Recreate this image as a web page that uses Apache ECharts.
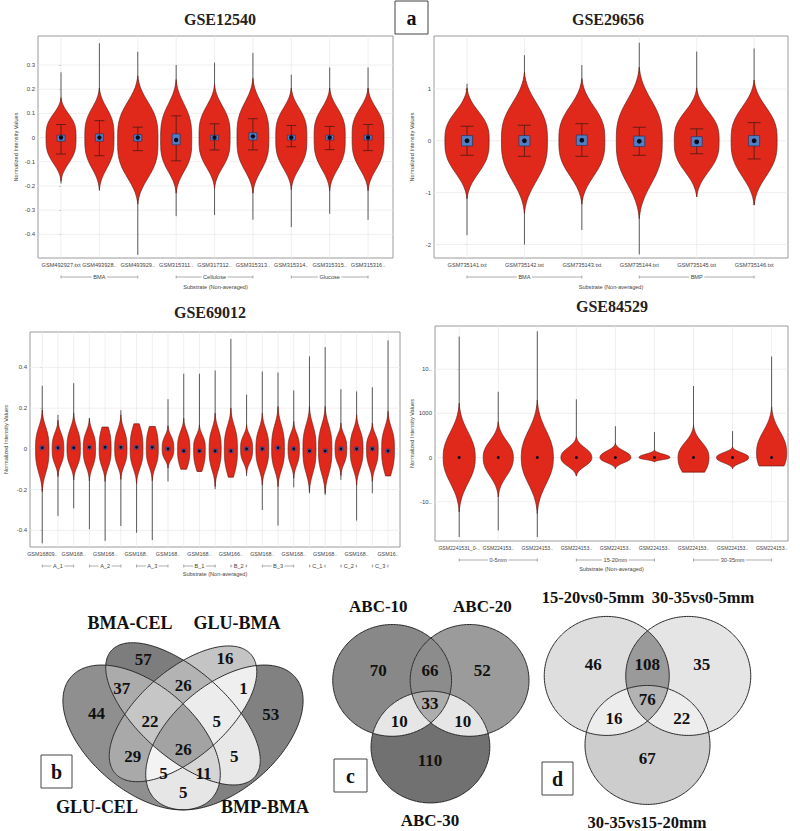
<!DOCTYPE html>
<html><head><meta charset="utf-8">
<script src="https://cdn.jsdelivr.net/npm/echarts@6/dist/echarts.min.js"></script>
<style>html,body{margin:0;padding:0;background:#fff}#c{width:800px;height:831px}</style>
</head><body><div id="c"></div>
<script>
// ================= DATA =================
const titleText = ['GSE12540', 'GSE29656', 'GSE69012', 'GSE84529'];
const yAxisTitle = 'Normalized Intensity Values';
const xAxisTitle = 'Substrate (Non-averaged)';

// ---- Panel 1: GSE12540 ----
const p1Names = ['GSM492927.txt','GSM493928..','GSM493929..','GSM315311..','GSM317312..','GSM315313..','GSM315314..','GSM315315..','GSM315316..'];
const p1Groups = [['BMA',0,2],['Cellulose',3,5],['Glucose',6,8]];
const p1YTicks = [0.3,0.2,0.1,0,-0.1,-0.2,-0.3,-0.4];
const p1YLabels = ['0.3','0.2','0.1','0','-0.1','-0.2','-0.3','-0.4'];
const p1WMax = [0.27,0.39,0.355,0.30,0.31,0.35,0.26,0.29,0.29];
const p1WMin = [-0.19,-0.22,-0.485,-0.325,-0.32,-0.34,-0.37,-0.315,-0.34];
const p1Hi = [0.165,0.205,0.255,0.24,0.22,0.245,0.205,0.205,0.205];
const p1Lo = [-0.18,-0.215,-0.275,-0.23,-0.21,-0.23,-0.215,-0.22,-0.22];
const p1Mid = [0,0,-0.01,-0.01,0,0,0,0,0];
const p1Width = [0.78,0.76,1.05,0.81,0.81,0.83,0.81,0.81,0.83];
const p1Med = [0,0,0,-0.01,0,0.005,0,0,0];
const p1Q1 = [-0.015,-0.015,-0.015,-0.03,-0.01,-0.01,-0.01,-0.01,-0.01];
const p1Q3 = [0.01,0.015,0.012,0.015,0.01,0.02,0.01,0.01,0.01];
const p1ELo = [-0.068,-0.075,-0.054,-0.096,-0.051,-0.051,-0.038,-0.05,-0.054];
const p1EHi = [0.054,0.07,0.043,0.09,0.057,0.078,0.05,0.046,0.054];

// ---- Panel 2: GSE29656 ----
const p2Names = ['GSM735141.txt','GSM735142.txt','GSM735143.txt','GSM735144.txt','GSM735145.txt','GSM735146.txt'];
const p2Groups = [['BMA',0,2],['BMP',3,5]];
const p2YTicks = [1,0,-1,-2];
const p2YLabels = ['1','0','-1','-2'];
const p2WMax = [1.1,1.65,1.46,1.89,1.72,1.78];
const p2WMin = [-1.82,-2.0,-1.72,-2.19,-1.08,-1.24];
const p2Hi = [1.02,1.32,1.2,1.42,1.02,1.17];
const p2Lo = [-1.12,-1.4,-1.22,-1.5,-1.08,-1.24];
const p2Mid = [0,0,0,0,0,0];
const p2Width = [0.77,0.8,0.8,0.8,0.78,0.8];
const p2Med = [0,0,0.01,-0.01,-0.02,0];
const p2Q1 = [-0.1,-0.1,-0.09,-0.11,-0.11,-0.1];
const p2Q3 = [0.1,0.1,0.11,0.09,0.08,0.1];
const p2ELo = [-0.28,-0.3,-0.3,-0.28,-0.25,-0.35];
const p2EHi = [0.28,0.3,0.33,0.26,0.23,0.35];

// ---- Panel 3: GSE69012 ----
const p3Names = ['GSM16809..','','GSM168..','','GSM168..','','GSM168..','','GSM168..','','GSM168..','','GSM166..','','GSM168..','','GSM168..','','GSM168..','','GSM168..','','GSM16..'];
const p3Groups = [['A_1',0,2],['A_2',3,5],['A_3',6,8],['B_1',9,11],['B_2',12,13],['B_3',14,16],['C_1',17,18],['C_2',19,20],['C_3',21,22]];
const p3YTicks = [0.4,0.2,0,-0.2,-0.4];
const p3YLabels = ['0.4','0.2','0','-0.2','-0.4'];
const p3WMax = [0.31,0.167,0.323,0.15,0.107,0.19,0.123,0.11,0.244,0.369,0.369,0.385,0.54,0.266,0.38,0.375,0.287,0.454,0.5,0.293,0.282,0.303,0.533];
const p3Hi = [0.19,0.14,0.175,0.15,0.19,0.167,0.2,0.19,0.113,0.15,0.118,0.175,0.2,0.118,0.175,0.208,0.134,0.208,0.208,0.126,0.167,0.126,0.184];
const p3CutHi = [null,null,null,null,0.107,null,0.123,0.11,null,null,null,null,null,null,null,null,null,null,null,null,null,null,null];
const p3Lo = [-0.21,-0.136,-0.152,-0.157,-0.16,-0.15,-0.17,-0.157,-0.095,-0.17,-0.18,-0.185,-0.22,-0.12,-0.177,-0.185,-0.144,-0.21,-0.218,-0.131,-0.177,-0.16,-0.21];
const p3CutLo = [null,null,null,null,null,null,null,null,null,-0.1,-0.111,null,-0.139,null,null,null,null,null,null,null,null,null,-0.133];
const p3WMin = [-0.464,-0.33,-0.292,-0.395,-0.452,-0.379,-0.412,-0.448,-0.16,-0.1,-0.111,-0.198,-0.139,-0.133,-0.3,-0.377,-0.189,-0.218,-0.226,-0.152,-0.352,-0.218,-0.133];
const p3Mid = [0,0,0,0,0,0,0,0,0,0,0,0,0,0,0,0,0,0,0,0,0,0,0];
const p3Width = [0.85,0.74,0.85,0.78,0.76,0.78,0.81,0.76,0.74,0.78,0.74,0.76,0.83,0.76,0.81,0.81,0.72,0.83,0.85,0.74,0.81,0.74,0.81];
const p3Med = [0.005,0.005,0.005,0.008,0.008,0.008,0.008,0.008,0,-0.01,-0.01,-0.01,-0.01,0,0,0.005,0,-0.01,-0.01,0,0,0,-0.01];

// ---- Panel 4: GSE84529 ----
const p4Names = ['GSM2241531_0-..','GSM224153..','GSM224153..','GSM224153..','GSM224153..','GSM224153..','GSM224153..','GSM224153..','GSM224153..'];
const p4Groups = [['0-5mm',0,2],['15-20mm',3,5],['30-35mm',6,8]];
const p4YTicks = [2,1,0,-1];
const p4YLabels = ['10..','1000','0','-10..'];
const p4WMax = [2.74,1.49,2.86,1.32,0.71,0.58,1.62,0.6,2.29];
const p4Hi = [1.23,0.81,1.3,0.47,0.32,0.17,0.73,0.24,1.15];
const p4Lo = [-1.23,-0.89,-1.27,-0.42,-0.25,-0.1,-0.9,-0.25,-0.9];
const p4CutLo = [null,null,null,null,null,null,-0.33,null,-0.19];
const p4WMin = [-1.8,-1.65,-1.8,-0.42,-0.25,-0.1,-0.33,-0.25,-0.19];
const p4Mid = [0,0,0,0,0,0,0,0,0.1];
const p4Width = [0.82,0.77,0.82,0.79,0.79,0.79,0.79,0.82,0.77];
const p4Med = [0,0,0,0,0,0,0,0,0];

// ---- Venn b ----
const vennBSets = ['GLU-CEL','BMA-CEL','GLU-BMA','BMP-BMA'];
const vennBMasks = [1,2,4,8,3,6,12,5,10,9,7,14,13,11,15];
const vennBCounts = [44,57,16,53,37,26,1,29,5,5,22,5,5,11,26];
// ---- Venn c ----
const vennCSets = ['ABC-10','ABC-20','ABC-30'];
const vennCMasks = [1,2,4,3,5,6,7];
const vennCCounts = [70,52,110,66,10,10,33];
// ---- Venn d ----
const vennDSets = ['15-20vs0-5mm','30-35vs0-5mm','30-35vs15-20mm'];
const vennDMasks = [1,2,4,3,5,6,7];
const vennDCounts = [46,35,67,108,16,22,76];

// ================= LAYOUT / STYLE =================
const SERIF = '"Liberation Serif","Times New Roman",serif';
const SANS = '"Liberation Sans",Arial,sans-serif';
const panels = [
  {title: titleText[0], tx: 220, ty: 19, grid: {left: 38, top: 36, width: 355, height: 222}, xMin: -0.6, xMax: 8.65, yMin: -0.498, yMax: 0.42,
   names: p1Names, groups: p1Groups, yTicks: p1YTicks, yLabels: p1YLabels, wMax: p1WMax, wMin: p1WMin, hi: p1Hi, lo: p1Lo, mid: p1Mid, width: p1Width,
   med: p1Med, q1: p1Q1, q3: p1Q3, eLo: p1ELo, eHi: p1EHi, A: 3.5, P: 3.2, boxW: 8, capW: 10, dotR: 2.2, nameGapX: 26, nameGapY: 19, xFont: 5.6},
  {title: titleText[1], tx: 608, ty: 19, grid: {left: 434, top: 36, width: 354, height: 222}, xMin: -0.575, xMax: 5.59, yMin: -2.26, yMax: 2.02,
   names: p2Names, groups: p2Groups, yTicks: p2YTicks, yLabels: p2YLabels, wMax: p2WMax, wMin: p2WMin, hi: p2Hi, lo: p2Lo, mid: p2Mid, width: p2Width,
   med: p2Med, q1: p2Q1, q3: p2Q3, eLo: p2ELo, eHi: p2EHi, A: 3.5, P: 2.9, boxW: 11, capW: 13, dotR: 2.4, nameGapX: 26, nameGapY: 19, xFont: 5.6},
  {title: titleText[2], tx: 210, ty: 312, grid: {left: 30, top: 332, width: 370, height: 215}, xMin: -0.78, xMax: 22.76, yMin: -0.482, yMax: 0.574,
   names: p3Names, groups: p3Groups, yTicks: p3YTicks, yLabels: p3YLabels, wMax: p3WMax, wMin: p3WMin, hi: p3Hi, lo: p3Lo, cutHi: p3CutHi, cutLo: p3CutLo, mid: p3Mid, width: p3Width,
   med: p3Med, A: 3.5, P: 3, boxW: 4, dotR: 1.5, nameGapX: 24, nameGapY: 21, labelEvery: 2, xFont: 5.4},
  {title: titleText[3], tx: 612, ty: 306, grid: {left: 435, top: 326, width: 353, height: 215}, xMin: -0.62, xMax: 8.42, yMin: -1.89, yMax: 2.98,
   names: p4Names, groups: p4Groups, yTicks: p4YTicks, yLabels: p4YLabels, wMax: p4WMax, wMin: p4WMin, hi: p4Hi, lo: p4Lo, cutLo: p4CutLo, mid: p4Mid, width: p4Width,
   med: p4Med, A: 3.5, P: 2.4, boxW: 0, dotR: 1.5, nameGapX: 25, nameGapY: 20, xFont: 5.1}
];

const RED = '#e0281b', RED_EDGE = '#6d1a12';

const venns = [
  { sets: vennBSets, masks: vennBMasks, counts: vennBCounts,
    grid: {left: 45, top: 600.8, width: 276, height: 215.9}, yMin: 0.15, yMax: 1,
    ellipses: [ {cx:0.35, cy:0.462, a:0.35, b:0.2, rot:135}, {cx:0.5, cy:0.555, a:0.36, b:0.165, rot:135},
                {cx:0.5, cy:0.555, a:0.34, b:0.165, rot:45}, {cx:0.65, cy:0.462, a:0.35, b:0.2, rot:45} ],
    colors: {1:'#8f8f8f',2:'#7d7d7d',4:'#c4c4c4',8:'#818181',3:'#ababab',6:'#b3b3b3',12:'#efefef',5:'#a9a9a9',10:'#e8e8e8',9:'#e6e6e6',7:'#c6c6c6',14:'#ececec',13:'#f3f3f3',11:'#d5d5d5',15:'#a3a3a3'},
    labelPos: [[0.187,0.557],[0.356,0.767],[0.652,0.771],[0.818,0.554],[0.278,0.655],[0.501,0.665],[0.719,0.655],[0.318,0.386],[0.686,0.386],[0.501,0.246],[0.380,0.524],[0.622,0.524],[0.429,0.321],[0.574,0.321],[0.501,0.413]],
    setPos: [[0.188,0.188],[0.308,0.913],[0.696,0.913],[0.797,0.188]],
    fontSize: 17, setFontSize: 18 },
  { sets: vennCSets, masks: vennCMasks, counts: vennCCounts,
    grid: {left: 320, top: 610, width: 220, height: 207}, yMin: 0, yMax: 1,
    ellipses: [ {cx:0.328, cy:0.66, a:0.27, b:0.27, rot:0}, {cx:0.68, cy:0.66, a:0.27, b:0.27, rot:0}, {cx:0.502, cy:0.338, a:0.27, b:0.27, rot:0} ],
    colors: {1:'#888888',2:'#9b9b9b',4:'#717171',3:'#8c8c8c',5:'#e6e6e6',6:'#e6e6e6',7:'#adadad'},
    labelPos: [[0.265,0.71],[0.738,0.71],[0.5,0.275],[0.5,0.71],[0.36,0.46],[0.649,0.46],[0.5,0.549]],
    setPos: [[0.265,1.016],[0.738,1.016],[0.5,-0.015]],
    fontSize: 17, setFontSize: 17 },
  { sets: vennDSets, masks: vennDMasks, counts: vennDCounts,
    grid: {left: 520, top: 610, width: 250, height: 214.2}, yMin: 0.1, yMax: 1,
    ellipses: [ {cx:0.347, cy:0.723, a:0.25, b:0.25, rot:0}, {cx:0.673, cy:0.723, a:0.25, b:0.25, rot:0}, {cx:0.51, cy:0.433, a:0.25, b:0.25, rot:0} ],
    colors: {1:'#dedede',2:'#e5e5e5',4:'#cdcdcd',3:'#9a9a9a',5:'#ededed',6:'#ededed',7:'#b3b3b3'},
    labelPos: [[0.293,0.769],[0.727,0.769],[0.509,0.377],[0.509,0.769],[0.376,0.545],[0.647,0.545],[0.509,0.622]],
    setPos: [[0.292,1.051],[0.732,1.051],[0.508,0.108]],
    fontSize: 17, setFontSize: 16.5 }
];

// ================= BUILD =================
const grids = [], xAxes = [], yAxes = [], series = [];

function fmtTick(P) {
  return function (v) {
    for (let k = 0; k < P.yTicks.length; k++) if (Math.abs(P.yTicks[k] - v) < 1e-9) return P.yLabels[k];
    return '';
  };
}

panels.forEach((P, gi) => {
  grids.push(Object.assign({show: true, borderColor: '#9a9a9a', borderWidth: 1, backgroundColor: '#fff'}, P.grid));
  const every = P.labelEvery || 1;
  const xIdx = P.names.map((n, i) => i).filter(i => i % every === 0);
  xAxes.push({
    type: 'value', gridIndex: gi, min: P.xMin, max: P.xMax,
    axisLine: {show: false}, splitLine: {show: false},
    axisTick: {show: true, customValues: xIdx, length: 2, lineStyle: {color: '#777', width: 0.6}},
    axisLabel: {customValues: xIdx, formatter: v => P.names[Math.round(v)], fontSize: P.xFont, color: '#444', margin: 4, fontFamily: SANS,
      showMinLabel: true, showMaxLabel: true, hideOverlap: false},
    name: xAxisTitle, nameLocation: 'middle', nameGap: P.nameGapX,
    nameTextStyle: {fontSize: 5.6, color: '#444', fontFamily: SANS}
  });
  yAxes.push({
    type: 'value', gridIndex: gi, min: P.yMin, max: P.yMax,
    axisLine: {show: false}, splitLine: {show: false},
    axisTick: {show: true, customValues: P.yTicks, length: 2, lineStyle: {color: '#777', width: 0.6}},
    axisLabel: {customValues: P.yTicks, formatter: fmtTick(P), fontSize: 6, color: '#444', margin: 3, fontFamily: SANS, showMinLabel: true, showMaxLabel: true},
    name: yAxisTitle, nameLocation: 'middle', nameGap: P.nameGapY, nameRotate: 90,
    nameTextStyle: {fontSize: 5.6, color: '#444', fontFamily: SANS}
  });

  // gridlines
  series.push({
    type: 'custom', xAxisIndex: gi, yAxisIndex: gi, silent: true, z: 1, clip: false,
    data: [[0, 0]],
    renderItem: (params, api) => {
      const cs = params.coordSys, ch = [];
      P.yTicks.forEach(v => {
        const y = api.coord([0, v])[1];
        ch.push({type: 'line', shape: {x1: cs.x, y1: y, x2: cs.x + cs.width, y2: y}, style: {stroke: '#ebebeb', lineWidth: 0.8}});
      });
      P.names.forEach((n, i) => {
        const x = api.coord([i, 0])[0];
        ch.push({type: 'line', shape: {x1: x, y1: cs.y, x2: x, y2: cs.y + cs.height}, style: {stroke: '#ebebeb', lineWidth: 0.8}});
      });
      return {type: 'group', children: ch};
    }
  });

  // violins
  series.push({
    type: 'custom', xAxisIndex: gi, yAxisIndex: gi, z: 3, clip: false,
    data: P.names.map((n, i) => [i, P.med[i]]),
    renderItem: (params, api) => {
      const i = params.dataIndex, ch = [];
      const pt = (xx, yy) => api.coord([xx, yy]);
      const w0 = pt(i, P.wMin[i]), w1 = pt(i, P.wMax[i]);
      ch.push({type: 'line', shape: {x1: w0[0], y1: w0[1], x2: w1[0], y2: w1[1]}, style: {stroke: '#4a4a4a', lineWidth: 0.9}});
      const mid = P.mid[i], hi = P.hi[i], lo = P.lo[i], hw = P.width[i] / 2;
      const yS = (P.cutLo && P.cutLo[i] != null) ? P.cutLo[i] : lo;
      const yE = (P.cutHi && P.cutHi[i] != null) ? P.cutHi[i] : hi;
      const N = 100, E = Math.exp(-P.A);
      const right = [], left = [];
      for (let k = 0; k <= N; k++) {
        const y = yS + (yE - yS) * k / N;
        let s = y >= mid ? (y - mid) / (hi - mid) : (mid - y) / (mid - lo);
        s = Math.min(1, Math.max(0, s));
        const g = Math.max(0, (Math.exp(-P.A * Math.pow(s, P.P)) - E) / (1 - E));
        right.push(pt(i + hw * g, y));
        left.push(pt(i - hw * g, y));
      }
      ch.push({type: 'polygon', shape: {points: right.concat(left.reverse())}, style: {fill: RED, stroke: RED_EDGE, lineWidth: 0.7}});
      const cx = pt(i, 0)[0];
      if (P.eLo) {
        const e0 = pt(i, P.eLo[i])[1], e1 = pt(i, P.eHi[i])[1];
        const cw = P.capW / 2;
        ch.push({type: 'line', shape: {x1: cx, y1: e0, x2: cx, y2: e1}, style: {stroke: '#4a1a14', lineWidth: 0.8}});
        ch.push({type: 'line', shape: {x1: cx - cw, y1: e0, x2: cx + cw, y2: e0}, style: {stroke: '#4a1a14', lineWidth: 0.8}});
        ch.push({type: 'line', shape: {x1: cx - cw, y1: e1, x2: cx + cw, y2: e1}, style: {stroke: '#4a1a14', lineWidth: 0.8}});
      }
      if (P.q1) {
        const b0 = pt(i, P.q1[i])[1], b1 = pt(i, P.q3[i])[1];
        ch.push({type: 'rect', shape: {x: cx - P.boxW / 2, y: b1, width: P.boxW, height: Math.max(1, b0 - b1)}, style: {fill: '#4f7fc4', stroke: '#1d2f5e', lineWidth: 0.6}});
      } else if (P.boxW) {
        const m = pt(i, P.med[i])[1];
        ch.push({type: 'rect', shape: {x: cx - P.boxW / 2, y: m - 2, width: P.boxW, height: 4}, style: {fill: '#5a6fc0', stroke: '#2a2a5a', lineWidth: 0.4}});
      }
      const m = pt(i, P.med[i]);
      ch.push({type: 'circle', shape: {cx: m[0], cy: m[1], r: P.dotR}, style: {fill: '#0b0b1e'}});
      return {type: 'group', children: ch};
    }
  });

  // group brackets
  series.push({
    type: 'custom', xAxisIndex: gi, yAxisIndex: gi, silent: true, z: 3, clip: false,
    data: P.groups.map(g => [g[1], 0]),
    renderItem: (params, api) => {
      const g = P.groups[params.dataIndex], cs = params.coordSys;
      const xa = api.coord([g[1], 0])[0], xb = api.coord([g[2], 0])[0];
      const y = cs.y + cs.height + 19;
      return {type: 'group', children: [
        {type: 'line', shape: {x1: xa, y1: y, x2: xb, y2: y}, style: {stroke: '#777', lineWidth: 0.6}},
        {type: 'line', shape: {x1: xa, y1: y - 1.5, x2: xa, y2: y + 1.5}, style: {stroke: '#777', lineWidth: 0.6}},
        {type: 'line', shape: {x1: xb, y1: y - 1.5, x2: xb, y2: y + 1.5}, style: {stroke: '#777', lineWidth: 0.6}},
        {type: 'text', style: {text: g[0], x: (xa + xb) / 2, y: y, align: 'center', verticalAlign: 'middle', textAlign: 'center', textVerticalAlign: 'middle',
          font: '5.6px ' + SANS, fill: '#444', backgroundColor: '#fff', padding: [0, 1.5]}}
      ]};
    }
  });
});

// Venn diagrams
venns.forEach((V, k) => {
  const gi = grids.length;
  grids.push(Object.assign({show: false}, V.grid));
  xAxes.push({type: 'value', gridIndex: gi, min: 0, max: 1, show: false});
  yAxes.push({type: 'value', gridIndex: gi, min: V.yMin, max: V.yMax, show: false});

  // region fills + outlines
  series.push({
    type: 'custom', xAxisIndex: gi, yAxisIndex: gi, silent: true, z: 2, clip: false,
    data: [[0.5, 0.5]],
    renderItem: (params, api) => {
      const p0 = api.coord([0, 0]), p1 = api.coord([1, 1]);
      const sx = p1[0] - p0[0], sy = p1[1] - p0[1];
      const E = V.ellipses.map(e => {
        const t = e.rot * Math.PI / 180, c = Math.cos(t), s = Math.sin(t);
        const hy = Math.sqrt(e.a * e.a * s * s + e.b * e.b * c * c);
        return {e, c, s, hy};
      });
      let yTop = Infinity, yBot = -Infinity;
      E.forEach(o => {
        const a = p0[1] + sy * (o.e.cy + o.hy), b = p0[1] + sy * (o.e.cy - o.hy);
        yTop = Math.min(yTop, a, b); yBot = Math.max(yBot, a, b);
      });
      const paths = {};
      for (let py = Math.floor(yTop); py <= Math.ceil(yBot); py++) {
        const uy = (py + 0.5 - p0[1]) / sy;
        const iv = [];
        const pts = [];
        E.forEach((o, j) => {
          const e = o.e, dy = uy - e.cy, a2 = e.a * e.a, b2 = e.b * e.b;
          const A = o.c * o.c / a2 + o.s * o.s / b2;
          const B = 2 * dy * o.c * o.s * (1 / a2 - 1 / b2);
          const C = dy * dy * (o.s * o.s / a2 + o.c * o.c / b2) - 1;
          const D = B * B - 4 * A * C;
          if (D > 0) {
            const r = Math.sqrt(D);
            const xa = p0[0] + sx * (e.cx + (-B - r) / (2 * A));
            const xb = p0[0] + sx * (e.cx + (-B + r) / (2 * A));
            iv[j] = [Math.min(xa, xb), Math.max(xa, xb)];
            pts.push(iv[j][0], iv[j][1]);
          } else iv[j] = null;
        });
        pts.sort((a, b) => a - b);
        let curMask = 0, curStart = null;
        const flush = (xEnd) => {
          if (curMask && curStart != null && xEnd > curStart) {
            paths[curMask] = (paths[curMask] || '') + 'M' + curStart.toFixed(2) + ' ' + py + 'H' + xEnd.toFixed(2) + 'V' + (py + 1) + 'H' + curStart.toFixed(2) + 'Z';
          }
        };
        for (let q = 0; q < pts.length - 1; q++) {
          const xa = pts[q], xb = pts[q + 1];
          if (xb - xa < 1e-6) continue;
          const xm = (xa + xb) / 2;
          let mask = 0;
          iv.forEach((v, j) => { if (v && xm >= v[0] && xm <= v[1]) mask |= (1 << j); });
          if (mask !== curMask) { flush(xa); curMask = mask; curStart = xa; }
        }
        if (pts.length) flush(pts[pts.length - 1]);
      }
      const ch = [];
      Object.keys(paths).forEach(m => {
        ch.push({type: 'path', shape: {pathData: paths[m]}, style: {fill: V.colors[m] || '#ccc', stroke: null}});
      });
      E.forEach(o => {
        const e = o.e, pts = [];
        for (let q = 0; q < 240; q++) {
          const t = q / 240 * Math.PI * 2;
          const ux = e.cx + e.a * Math.cos(t) * o.c - e.b * Math.sin(t) * o.s;
          const uy = e.cy + e.a * Math.cos(t) * o.s + e.b * Math.sin(t) * o.c;
          pts.push([p0[0] + sx * ux, p0[1] + sy * uy]);
        }
        ch.push({type: 'polygon', shape: {points: pts}, style: {fill: null, stroke: '#2a2a2a', lineWidth: 1}});
      });
      return {type: 'group', children: ch};
    }
  });

  // counts
  series.push({
    type: 'custom', xAxisIndex: gi, yAxisIndex: gi, silent: true, z: 4, clip: false,
    data: V.counts.map((c, i) => [V.labelPos[i][0], V.labelPos[i][1], c]),
    renderItem: (params, api) => {
      const p = api.coord([api.value(0), api.value(1)]);
      return {type: 'text', style: {text: String(api.value(2)), x: p[0], y: p[1], align: 'center', verticalAlign: 'middle', textAlign: 'center', textVerticalAlign: 'middle',
        font: 'bold ' + V.fontSize + 'px ' + SERIF, fill: '#111'}};
    }
  });
  // set names
  series.push({
    type: 'custom', xAxisIndex: gi, yAxisIndex: gi, silent: true, z: 4, clip: false,
    data: V.sets.map((s, i) => [V.setPos[i][0], V.setPos[i][1]]),
    renderItem: (params, api) => {
      const p = api.coord([api.value(0), api.value(1)]);
      return {type: 'text', style: {text: V.sets[params.dataIndex], x: p[0], y: p[1], align: 'center', verticalAlign: 'middle', textAlign: 'center', textVerticalAlign: 'middle',
        font: 'bold ' + V.setFontSize + 'px ' + SERIF, fill: '#111'}};
    }
  });
});

// titles and panel letters
const graphics = [];
panels.forEach(P => {
  graphics.push({type: 'text', x: P.tx, y: P.ty, style: {text: P.title, align: 'center', verticalAlign: 'middle', textAlign: 'center', textVerticalAlign: 'middle', font: 'bold 16px ' + SERIF, fill: '#222'}});
});
const letterBoxes = [['a', 395, 1, 33, 33], ['b', 41, 755, 31, 33], ['c', 334, 759, 33, 33], ['d', 542, 762, 31, 33]];
letterBoxes.forEach(b => {
  graphics.push({type: 'rect', shape: {x: b[1], y: b[2], width: b[3], height: b[4]}, style: {fill: '#fff', stroke: '#444', lineWidth: 1}, z: 10});
  graphics.push({type: 'text', x: b[1] + b[3] / 2, y: b[2] + b[4] / 2, z: 11, style: {text: b[0], align: 'center', verticalAlign: 'middle', textAlign: 'center', textVerticalAlign: 'middle', font: 'bold 20px ' + SERIF, fill: '#111'}});
});

const chart = echarts.init(document.getElementById('c'), null, {renderer: 'svg'});
chart.setOption({
  animation: false,
  backgroundColor: '#fff',
  grid: grids, xAxis: xAxes, yAxis: yAxes, series: series,
  graphic: {elements: graphics}
});
</script>
</body></html>
